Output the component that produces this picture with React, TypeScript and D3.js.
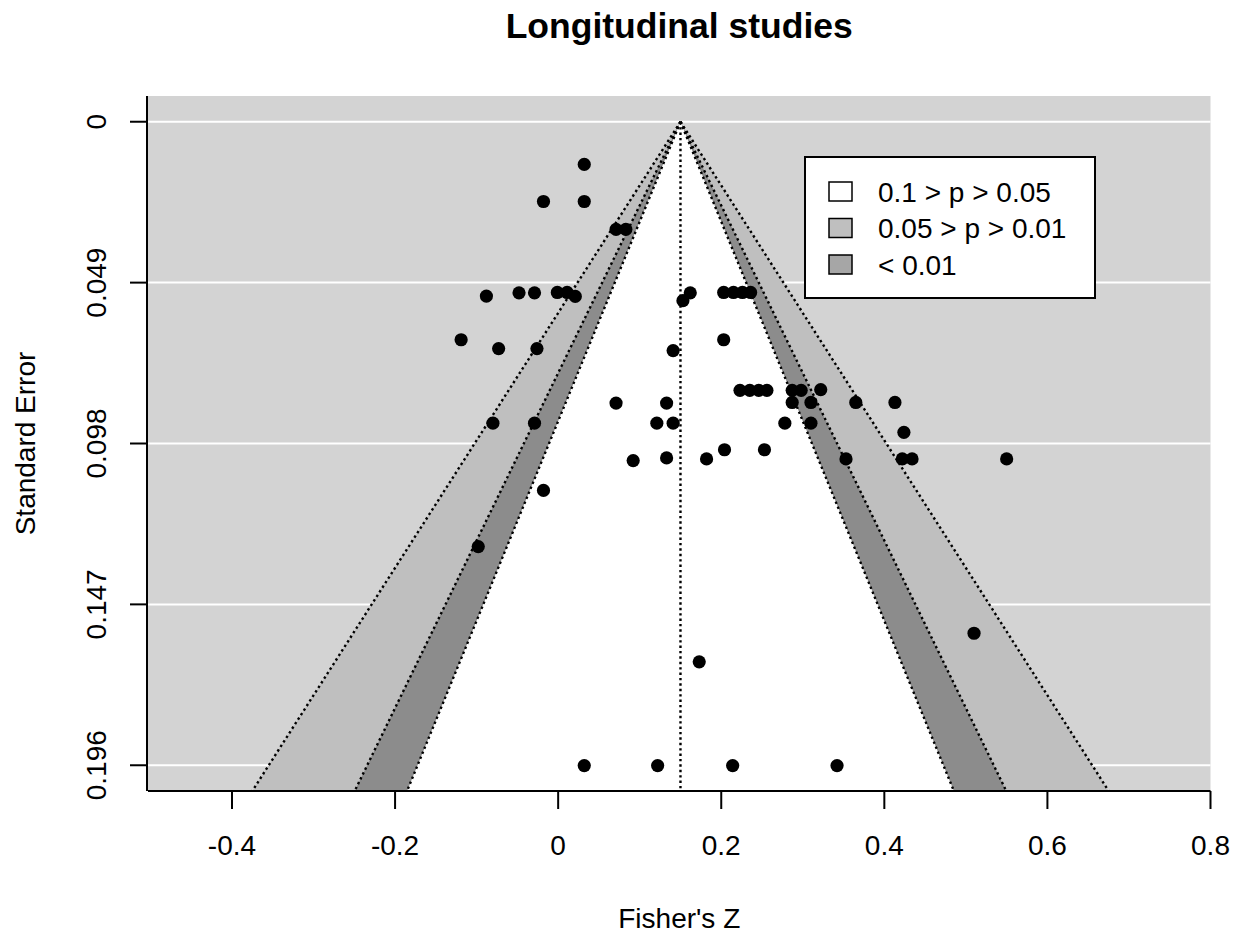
import React from "react";
import * as d3 from "d3";

// effect sizes (Fisher's Z) and their standard errors
const fisherZ = [
  0.032, -0.018, 0.032, 0.071, 0.083, -0.088, -0.048, -0.029, -0.001, 0.011,
  0.021, 0.153, 0.162, 0.203, 0.215, 0.226, 0.236, -0.119, -0.073, -0.026,
  0.203, 0.141, 0.223, 0.235, 0.246, 0.256, 0.287, 0.298, 0.322, 0.287,
  0.31, 0.365, 0.413, 0.071, 0.133, -0.08, -0.029, 0.121, 0.141, 0.278,
  0.31, 0.424, 0.204, 0.253, 0.092, 0.133, 0.182, 0.353, 0.422, 0.434,
  0.55, -0.018, -0.098, 0.51, 0.173, 0.032, 0.122, 0.214, 0.342,
];
const stdErr = [
  0.013, 0.0243, 0.0243, 0.0328, 0.0328, 0.0531, 0.0521, 0.0521, 0.052, 0.052,
  0.0532, 0.0545, 0.0521, 0.052, 0.052, 0.052, 0.052, 0.0664, 0.0691, 0.0691,
  0.0664, 0.0697, 0.0818, 0.0818, 0.0818, 0.0818, 0.0818, 0.0818, 0.0816, 0.0855,
  0.0855, 0.0855, 0.0855, 0.0857, 0.0857, 0.0918, 0.0918, 0.0918, 0.0918, 0.0918,
  0.0918, 0.0946, 0.0999, 0.0999, 0.1032, 0.1024, 0.1027, 0.1027, 0.1027, 0.1027,
  0.1027, 0.1123, 0.1294, 0.1558, 0.1645, 0.1961, 0.1961, 0.1961, 0.1961,
];

const refLine = 0.15;
const xTicks = [-0.4, -0.2, 0, 0.2, 0.4, 0.6, 0.8];
const xTickLabels = ["-0.4", "-0.2", "0", "0.2", "0.4", "0.6", "0.8"];
const yTickLabels = ["0", "0.049", "0.098", "0.147", "0.196"];
const seMax = 0.196;

// contour regions: z-multipliers, outermost first
const contourZ = [2.576, 1.96, 1.645];
const contourFill = ["#bfbfbf", "#8c8c8c", "#ffffff"];
const legendLabels = ["0.1 > p > 0.05", "0.05 > p > 0.01", "< 0.01"];
const legendFill = ["#ffffff", "#bfbfbf", "#a6a6a6"];

const W = 1235;
const H = 936;
const plot = { left: 148, right: 1210.5, top: 96, bottom: 791 };
const font = "'Liberation Sans', Arial, sans-serif";
const dotted = { stroke: "#000", strokeWidth: 2.4, strokeDasharray: "2.4,3" };

export default function App() {
  const x = d3.scaleLinear().domain([-0.503, 0.8]).range([plot.left, plot.right]);
  const pad = seMax * 0.04;
  const y = d3
    .scaleLinear()
    .domain([-pad, seMax + pad])
    .range([plot.top, plot.bottom]);
  const seBottom = seMax + pad;
  const yTicks = yTickLabels.map((_, i) => (seMax * i) / (yTickLabels.length - 1));

  const line = d3
    .line<[number, number]>()
    .x((d) => x(d[0]))
    .y((d) => y(d[1]));

  const funnel = (z: number) =>
    line([
      [refLine - z * seBottom, seBottom],
      [refLine, 0],
      [refLine + z * seBottom, seBottom],
    ]) + "Z";

  const edge = (z: number, s: number) =>
    line([
      [refLine, 0],
      [refLine + s * z * seBottom, seBottom],
    ]) as string;

  const points = fisherZ.map((v, i) => ({ v, se: stdErr[i] }));

  return (
    <svg
      width={W}
      height={H}
      style={{ position: "absolute", left: 0, top: 0, background: "#fff" }}
      fontFamily={font}
    >
      <defs>
        <clipPath id="plotClip">
          <rect x={plot.left} y={plot.top} width={plot.right - plot.left} height={plot.bottom - plot.top} />
        </clipPath>
      </defs>

      <text x={(plot.left + plot.right) / 2} y={38} textAnchor="middle" fontSize={35.5} fontWeight="bold">
        Longitudinal studies
      </text>

      {/* background + grid */}
      <rect x={plot.left} y={plot.top} width={plot.right - plot.left} height={plot.bottom - plot.top} fill="#d3d3d3" />
      {yTicks.map((t) => (
        <line key={t} x1={plot.left} x2={plot.right} y1={y(t)} y2={y(t)} stroke="#fff" strokeWidth={2} />
      ))}

      <g clipPath="url(#plotClip)">
        {contourZ.map((z, i) => (
          <path key={z} d={funnel(z)} fill={contourFill[i]} stroke="none" />
        ))}
        {contourZ.map((z) =>
          [-1, 1].map((s) => <path key={z + "_" + s} d={edge(z, s)} fill="none" {...dotted} />)
        )}
        <line x1={x(refLine)} x2={x(refLine)} y1={y(0)} y2={plot.bottom} {...dotted} />
        {points.map((d, i) => (
          <circle key={i} cx={x(d.v)} cy={y(d.se)} r={6.6} fill="#000" />
        ))}
      </g>

      {/* x axis */}
      <line x1={plot.left} x2={plot.right} y1={plot.bottom} y2={plot.bottom} stroke="#000" strokeWidth={2} />
      {xTicks.map((t, i) => (
        <g key={t}>
          <line x1={x(t)} x2={x(t)} y1={plot.bottom} y2={plot.bottom + 18} stroke="#000" strokeWidth={2} />
          <text x={x(t)} y={855} textAnchor="middle" fontSize={28}>
            {xTickLabels[i]}
          </text>
        </g>
      ))}
      <text x={(plot.left + plot.right) / 2} y={928} textAnchor="middle" fontSize={28}>
        Fisher's Z
      </text>

      {/* y axis */}
      <line x1={plot.left - 1} x2={plot.left - 1} y1={plot.top} y2={plot.bottom} stroke="#000" strokeWidth={2} />
      {yTicks.map((t, i) => (
        <g key={t}>
          <line x1={plot.left - 1} x2={plot.left - 18} y1={y(t)} y2={y(t)} stroke="#000" strokeWidth={2} />
          <text transform={`translate(106,${y(t)}) rotate(-90)`} textAnchor="middle" fontSize={28}>
            {yTickLabels[i]}
          </text>
        </g>
      ))}
      <text transform={`translate(35,${(plot.top + plot.bottom) / 2}) rotate(-90)`} textAnchor="middle" fontSize={28}>
        Standard Error
      </text>

      {/* legend */}
      <rect x={805} y={157} width={290} height={141} fill="#fff" stroke="#000" strokeWidth={2} />
      {legendLabels.map((lab, i) => {
        const cy = 191.5 + i * 36.5;
        return (
          <g key={lab}>
            <rect x={829} y={cy - 9.5} width={23} height={19} fill={legendFill[i]} stroke="#000" strokeWidth={1.5} />
            <text x={878} y={cy + 10} fontSize={28}>
              {lab}
            </text>
          </g>
        );
      })}
    </svg>
  );
}
